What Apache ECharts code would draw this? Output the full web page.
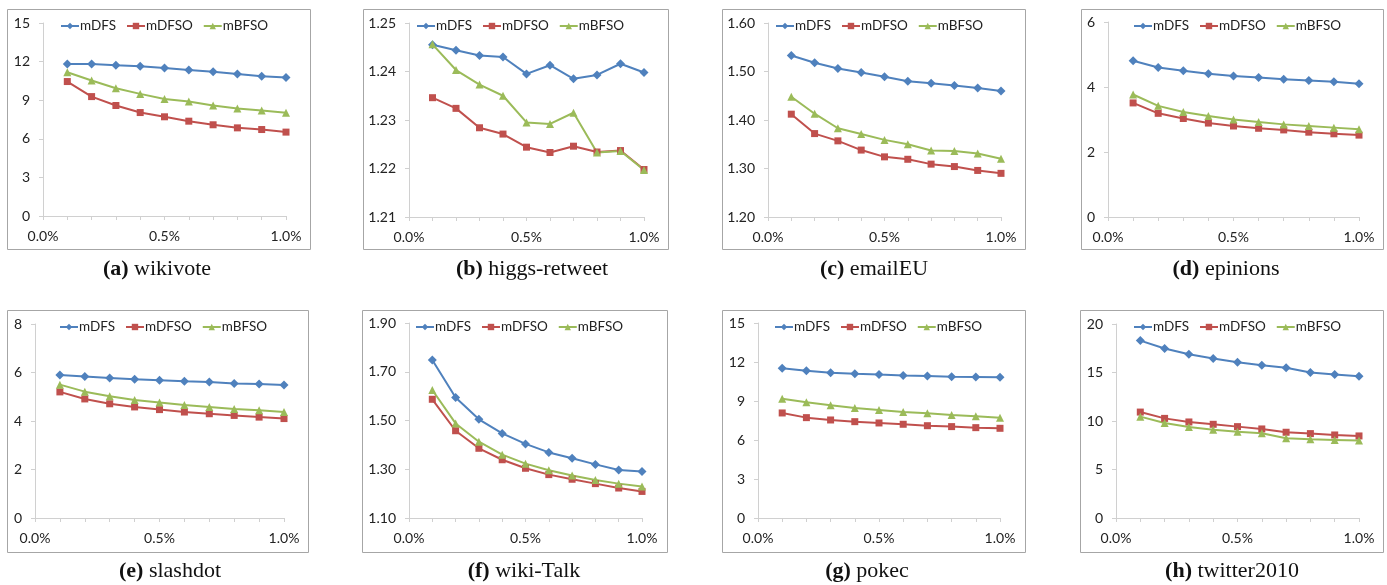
<!DOCTYPE html>
<html>
<head>
<meta charset="utf-8">
<script src="https://cdn.jsdelivr.net/npm/echarts@6/dist/echarts.min.js"></script>
<style>
  html, body { margin: 0; padding: 0; background: #fff; }
  #figure { width: 1387px; height: 585px; }
</style>
</head>
<body>
<div id="figure"></div>
<script>
// sample ratio on the x axis (percent)
let xValues = [0.1, 0.2, 0.3, 0.4, 0.5, 0.6, 0.7, 0.8, 0.9, 1.0];
let xTicks = [0, 0.1, 0.2, 0.3, 0.4, 0.5, 0.6, 0.7, 0.8, 0.9, 1.0];
let xLabels = [0, 0.5, 1.0];
let seriesNames = ['mDFS', 'mDFSO', 'mBFSO'];

let captionTags = ['(a)', '(b)', '(c)', '(d)', '(e)', '(f)', '(g)', '(h)'];
let captionNames = ['wikivote', 'higgs-retweet', 'emailEU', 'epinions', 'slashdot', 'wiki-Talk', 'pokec', 'twitter2010'];

// y axis tick values per panel
let yTicksA = [0, 3, 6, 9, 12, 15];
let yTicksB = [1.21, 1.22, 1.23, 1.24, 1.25];
let yTicksC = [1.20, 1.30, 1.40, 1.50, 1.60];
let yTicksD = [0, 2, 4, 6];
let yTicksE = [0, 2, 4, 6, 8];
let yTicksF = [1.10, 1.30, 1.50, 1.70, 1.90];
let yTicksG = [0, 3, 6, 9, 12, 15];
let yTicksH = [0, 5, 10, 15, 20];

// (a) wikivote
let wikivoteDFS = [11.82, 11.82, 11.71, 11.64, 11.51, 11.35, 11.22, 11.04, 10.86, 10.76];
let wikivoteDFSO = [10.45, 9.28, 8.59, 8.04, 7.71, 7.37, 7.09, 6.85, 6.72, 6.52];
let wikivoteBFSO = [11.17, 10.53, 9.93, 9.49, 9.10, 8.90, 8.59, 8.35, 8.20, 8.02];
// (b) higgs-retweet
let higgsDFS = [1.2455, 1.2444, 1.2433, 1.2430, 1.2395, 1.2413, 1.2385, 1.2393, 1.2416, 1.2398];
let higgsDFSO = [1.2346, 1.2324, 1.2284, 1.2271, 1.2244, 1.2233, 1.2246, 1.2234, 1.2237, 1.2198];
let higgsBFSO = [1.2456, 1.2403, 1.2373, 1.2350, 1.2295, 1.2292, 1.2315, 1.2233, 1.2236, 1.2197];
// (c) emailEU
let emailDFS = [1.533, 1.518, 1.506, 1.498, 1.489, 1.480, 1.476, 1.471, 1.466, 1.460];
let emailDFSO = [1.412, 1.372, 1.357, 1.338, 1.324, 1.319, 1.309, 1.304, 1.296, 1.290];
let emailBFSO = [1.448, 1.413, 1.383, 1.371, 1.359, 1.350, 1.337, 1.336, 1.331, 1.320];
// (d) epinions
let epinionsDFS = [4.81, 4.60, 4.50, 4.41, 4.34, 4.29, 4.24, 4.20, 4.16, 4.10];
let epinionsDFSO = [3.51, 3.19, 3.03, 2.89, 2.80, 2.73, 2.68, 2.61, 2.56, 2.52];
let epinionsBFSO = [3.77, 3.42, 3.23, 3.11, 3.00, 2.92, 2.85, 2.80, 2.75, 2.70];
// (e) slashdot
let slashdotDFS = [5.90, 5.84, 5.77, 5.72, 5.68, 5.64, 5.61, 5.55, 5.53, 5.48];
let slashdotDFSO = [5.20, 4.91, 4.71, 4.58, 4.47, 4.37, 4.30, 4.23, 4.16, 4.10];
let slashdotBFSO = [5.50, 5.21, 5.02, 4.87, 4.76, 4.66, 4.58, 4.49, 4.44, 4.37];
// (f) wiki-Talk
let talkDFS = [1.748, 1.594, 1.505, 1.447, 1.404, 1.369, 1.345, 1.320, 1.297, 1.291];
let talkDFSO = [1.587, 1.458, 1.386, 1.339, 1.304, 1.278, 1.259, 1.241, 1.223, 1.209];
let talkBFSO = [1.625, 1.488, 1.413, 1.360, 1.323, 1.296, 1.274, 1.256, 1.241, 1.229];
// (g) pokec
let pokecDFS = [11.51, 11.33, 11.18, 11.10, 11.03, 10.97, 10.92, 10.87, 10.85, 10.82];
let pokecDFSO = [8.08, 7.72, 7.54, 7.41, 7.31, 7.21, 7.10, 7.03, 6.95, 6.90];
let pokecBFSO = [9.18, 8.90, 8.67, 8.46, 8.31, 8.15, 8.05, 7.92, 7.82, 7.72];
// (h) twitter2010
let twitterDFS = [18.29, 17.47, 16.88, 16.44, 16.06, 15.75, 15.48, 15.00, 14.79, 14.62];
let twitterDFSO = [10.92, 10.27, 9.90, 9.66, 9.42, 9.18, 8.84, 8.70, 8.56, 8.46];
let twitterBFSO = [10.45, 9.79, 9.38, 9.11, 8.90, 8.73, 8.22, 8.12, 8.05, 7.98];

let panels = [
    {ticks: yTicksA, digits: 0, data: [wikivoteDFS, wikivoteDFSO, wikivoteBFSO]},
    {ticks: yTicksB, digits: 2, data: [higgsDFS, higgsDFSO, higgsBFSO]},
    {ticks: yTicksC, digits: 2, data: [emailDFS, emailDFSO, emailBFSO]},
    {ticks: yTicksD, digits: 0, data: [epinionsDFS, epinionsDFSO, epinionsBFSO]},
    {ticks: yTicksE, digits: 0, data: [slashdotDFS, slashdotDFSO, slashdotBFSO]},
    {ticks: yTicksF, digits: 2, data: [talkDFS, talkDFSO, talkBFSO]},
    {ticks: yTicksG, digits: 0, data: [pokecDFS, pokecDFSO, pokecBFSO]},
    {ticks: yTicksH, digits: 0, data: [twitterDFS, twitterDFSO, twitterBFSO]}
];

// layout: plot area [left, top, width, height], frame [x1, y1, x2, y2], legend [left, top], caption [cx, top]
let plotBoxes = [
    [43, 23, 243, 193], [409, 23, 235, 194], [768, 23, 233, 194], [1108, 22, 251, 195],
    [35, 324, 249, 194], [409, 323, 233, 195], [758, 323, 242, 195], [1116, 324, 243, 194]
];
let frames = [
    [7, 9, 310, 249], [363, 9, 668, 249], [722, 9, 1025, 249], [1081, 9, 1383, 249],
    [7, 310, 308, 552], [362, 310, 667, 552], [722, 310, 1025, 552], [1080, 310, 1383, 552]
];
let legendPos = [
    [60, 19], [416, 19], [775, 19], [1133, 19],
    [59, 320], [415, 320], [774, 320], [1133, 320]
];
let captionPos = [
    [157, 258], [532, 258], [874, 258], [1226, 258],
    [170, 560], [524, 560], [867, 560], [1232, 560]
];

let colors = ['#4F81BD', '#C0504D', '#9BBB59'];
let symbols = ['diamond', 'rect', 'triangle'];
let symbolSizes = [9, 7, 8];
let labelFont = 'Lato, "Open Sans", sans-serif';
let captionFont = '"Liberation Serif", serif';

let grids = [], xAxes = [], yAxes = [], series = [], legends = [], titles = [], graphics = [];

for (let i = 0; i < panels.length; i++) {
    let p = panels[i];
    let b = plotBoxes[i];
    grids.push({left: b[0], top: b[1], width: b[2], height: b[3], containLabel: false});
    xAxes.push({
        type: 'value', gridIndex: i, min: 0, max: 1,
        axisLine: {show: true, lineStyle: {color: '#d0d0d0', width: 1}},
        axisTick: {show: true, length: 4, customValues: xTicks, lineStyle: {color: '#d0d0d0'}},
        axisLabel: {
            customValues: xLabels, margin: 13, color: '#222', fontSize: 14, fontFamily: labelFont,
            formatter: function (v) { return v.toFixed(1) + '%'; }
        },
        splitLine: {show: false}
    });
    yAxes.push({
        type: 'value', gridIndex: i, min: p.ticks[0], max: p.ticks[p.ticks.length - 1],
        axisLine: {show: true, lineStyle: {color: '#d0d0d0', width: 1}},
        axisTick: {show: true, length: 4, customValues: p.ticks, lineStyle: {color: '#d0d0d0'}},
        axisLabel: {
            customValues: p.ticks, margin: 13, color: '#222', fontSize: 14, fontFamily: labelFont,
            formatter: (function (d) { return function (v) { return v.toFixed(d); }; })(p.digits)
        },
        splitLine: {show: false}
    });
    for (let k = 0; k < 3; k++) {
        series.push({
            name: seriesNames[k], type: 'line', xAxisIndex: i, yAxisIndex: i,
            data: xValues.map((x, j) => [x, p.data[k][j]]),
            symbol: symbols[k], symbolSize: symbolSizes[k], showAllSymbol: true,
            itemStyle: {color: colors[k]},
            lineStyle: {color: colors[k], width: 2},
            emphasis: {disabled: true}
        });
    }
    legends.push({
        data: seriesNames, left: legendPos[i][0], top: legendPos[i][1],
        itemWidth: 18, itemHeight: 8, itemGap: 10, padding: 0,
        textStyle: {fontSize: 13.5, fontFamily: labelFont, color: '#222', padding: [0, 0, 0, -4]}
    });
    titles.push({
        text: '{b|' + captionTags[i] + '} ' + captionNames[i],
        left: captionPos[i][0], top: captionPos[i][1], textAlign: 'center', padding: 0,
        textStyle: {
            fontSize: 22, fontWeight: 'normal', color: '#111', fontFamily: captionFont,
            rich: {b: {fontSize: 22, fontWeight: 'bold', color: '#111', fontFamily: captionFont}}
        }
    });
    let f = frames[i];
    graphics.push({
        type: 'rect', silent: true, z: -1,
        shape: {x: f[0] + 0.5, y: f[1] + 0.5, width: f[2] - f[0], height: f[3] - f[1]},
        style: {fill: null, stroke: '#a6a6a6', lineWidth: 1}
    });
}

let myChart = echarts.init(document.getElementById('figure'));
myChart.setOption({
    animation: false,
    backgroundColor: '#fff',
    title: titles,
    legend: legends,
    grid: grids,
    xAxis: xAxes,
    yAxis: yAxes,
    series: series,
    graphic: graphics
});
</script>
</body>
</html>
